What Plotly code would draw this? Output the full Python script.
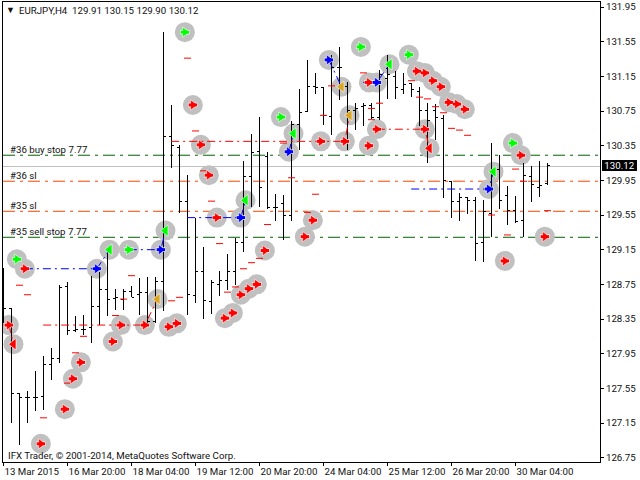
import plotly.graph_objects as go

bar_index = list(range(69))
highs = [128.94,128.47,127.49,127.52,127.75,127.92,128.02,128.74,128.78,128.39,128.40,128.85,128.89,129.15,128.70,128.70,128.73,128.82,128.84,128.84,
         131.66,130.82,130.36,130.01,129.52,129.18,128.80,128.90,129.10,129.28,130.17,130.49,130.68,130.28,129.79,129.78,130.64,131.00,131.34,131.19,
         131.02,131.40,131.49,131.08,130.84,130.84,130.84,131.22,131.40,131.21,131.19,131.07,131.03,130.84,130.83,130.70,129.94,129.80,129.76,129.76,
         129.72,130.38,130.24,129.89,129.77,130.15,130.12,130.17,130.15]
lows = [128.30,127.15,126.90,127.15,127.29,127.30,127.65,127.84,128.17,128.20,128.17,128.07,128.28,128.39,128.45,128.45,128.60,128.40,128.30,128.30,
        128.44,130.09,129.57,128.40,128.53,128.35,128.41,128.62,128.69,128.74,129.12,129.64,129.64,129.62,129.48,129.26,129.48,130.30,130.74,130.95,
        130.59,130.47,130.88,130.30,130.53,130.58,130.66,130.65,130.89,130.89,130.95,130.91,130.58,130.15,130.42,129.75,129.52,129.48,129.56,129.02,
        129.01,129.30,129.62,129.44,129.46,129.30,129.70,129.76,129.90]
opens = [128.57,128.47,127.49,127.44,127.44,127.46,127.83,127.89,128.72,128.22,128.23,128.25,128.50,128.69,128.59,128.58,128.67,128.63,128.66,128.32,
         128.78,130.46,130.33,129.71,128.62,128.90,128.55,128.75,128.79,128.90,129.23,129.99,130.28,130.22,129.64,129.68,129.55,130.59,130.74,131.03,
         131.02,130.69,131.25,131.03,130.76,130.80,130.81,130.68,131.13,131.15,131.00,131.07,130.98,130.76,130.76,130.66,129.94,129.71,129.75,129.72,
         129.23,129.57,130.08,129.78,129.60,129.49,130.00,129.87,129.91]
closes = [128.47,127.49,127.44,127.44,127.45,127.83,127.89,128.71,128.22,128.23,128.23,128.49,128.69,128.58,128.60,128.67,128.60,128.66,128.32,128.78,
          130.46,130.35,129.71,128.63,128.90,128.56,128.77,128.79,128.90,129.23,129.99,130.27,129.87,129.64,129.64,129.55,130.60,130.73,131.03,131.02,
          130.70,131.25,131.25,130.76,130.78,130.81,130.67,131.17,131.17,131.02,131.06,131.00,130.76,130.64,130.67,129.95,129.71,129.75,129.72,129.22,
          129.59,130.08,129.72,129.60,129.48,130.01,129.90,129.89,130.12]

date_ticks = [0,8,16,24,32,40,48,56,64]
date_labels = ["13 Mar 2015","16 Mar 20:00","18 Mar 04:00","19 Mar 12:00","20 Mar 20:00","24 Mar 04:00","25 Mar 12:00","26 Mar 20:00","30 Mar 04:00"]
price_ticks = [131.95,131.55,131.15,130.75,130.35,129.95,129.55,129.15,128.75,128.35,127.95,127.55,127.15,126.75]

red_right_x = [0.67,2.67,4.67,7.67,8.67,9.67,13.67,14.67,17.67,20.67,21.67,23.67,24.67,25.67,26.67,27.67,28.67,29.67,30.67,31.67,32.67,37.67,38.67,39.67,42.67,45.67,45.67,46.67,51.67,52.67,52.67,53.67,54.67,55.67,56.67,57.67,62.67,64.67,67.67]
red_right_y = [128.28,128.93,126.91,127.31,127.66,127.85,128.09,128.28,128.28,128.26,128.30,130.82,130.36,130.01,129.52,128.36,128.42,128.63,128.70,128.75,129.14,129.30,129.49,130.40,130.40,131.08,130.35,130.54,131.21,131.19,130.54,131.10,131.03,130.85,130.83,130.77,129.02,130.24,129.30]
red_left_x = [1.25,53.25]
red_left_y = [128.06,130.32]
green_right_x = [1.67,15.67,22.67,34.67,44.67,50.67,63.67]
green_right_y = [129.04,129.15,131.66,130.68,131.49,131.40,130.38]
green_left_x = [13.25,20.25,30.25,36.25,48.25,61.25]
green_left_y = [129.15,129.37,129.72,130.49,131.29,130.05]
blue_right_x = [11.67,19.67,29.67,35.67,40.67,46.67,60.67]
blue_right_y = [128.93,129.15,129.52,130.28,131.34,131.08,129.85]
gold_left_x = [19.25,42.25,43.25]
gold_left_y = [128.58,131.03,130.70]

dash_x = [2,3,5,9,8,10,14,15,16,21,22,23,24,25,26,27,28,29,30,31,32,33,35,36,38,39,40,41,45,46,46,47,51,52,53,54,55,56,57,58,61,63,64,65,68]
dash_y = [128.74,128.63,127.21,127.96,127.61,128.15,128.39,128.58,128.85,128.56,128.60,131.36,130.52,130.06,129.71,129.22,128.66,128.72,128.93,129.00,129.05,129.44,130.38,129.98,129.58,129.79,130.70,131.04,131.19,130.78,130.65,130.84,131.10,130.91,130.89,130.80,130.73,130.55,130.53,130.47,129.55,129.32,130.08,129.94,129.60]

red_paths = [([0,0.67],[128.28,128.28]),([0.67,1.25],[128.28,128.06]),([4.96,17.67,19.25],[128.28,128.28,128.58]),
             ([20.96,42.67,43.25],[130.40,130.40,130.70]),([46.67,52.67,53.25],[130.54,130.54,130.32])]
blue_paths = [([2.67,11.67,13.25],[128.93,128.93,129.15]),([15.67,19.67,20.25],[129.15,129.15,129.37]),
              ([22.96,29.67,30.25],[129.52,129.52,129.72]),([35.67,36.25],[130.28,130.49]),([40.67,42.25],[131.34,131.03]),
              ([44.96,46.67,48.25],[131.08,131.08,131.29]),([50.96,60.67,61.25],[129.85,129.85,130.05])]

order_prices = [130.24,129.94,129.593,129.293]
order_colors = ["#006400","#FF4500","#FF4500","#006400"]
order_labels = ["#36 buy stop 7.77","#36 sl","#35 sl","#35 sell stop 7.77"]
last_price = 130.12
last_price_line = 130.11

FONT = "Roboto"
FS = 9.7
L, R, T, B = 3, 40, 2, 18
px_w = 640 - L - R
px_h = 480 - T - B
X_RANGE = [-0.0625, 74.5625]
Y_RANGE = [126.70, 132.008]

def paper_x(px):
    return (px - L) / px_w

def paper_y(py):
    return (480 - B - py) / px_h

def note(text, px, py, size=FS):
    return dict(text=text, xref="paper", yref="paper", x=paper_x(px), y=paper_y(py), xanchor="left", yanchor="middle",
                showarrow=False, borderpad=0, font=dict(family=FONT, size=size, color="#101010"))

fig = go.Figure()

fig.add_trace(go.Ohlc(x=bar_index, open=opens, high=highs, low=lows, close=closes, tickwidth=0.36,
                      increasing=dict(line=dict(color="black", width=1)),
                      decreasing=dict(line=dict(color="black", width=1)),
                      showlegend=False, hoverinfo="skip"))

shapes = []
shapes.append(dict(type="line", xref="paper", x0=0, x1=1, yref="y", y0=last_price_line, y1=last_price_line,
                   line=dict(color="#C0C0C0", width=1), layer="below"))
for p, c in zip(order_prices, order_colors):
    shapes.append(dict(type="line", xref="paper", x0=0, x1=1, yref="y", y0=p, y1=p,
                       line=dict(color=c, width=1, dash="12px,5px,3px,5px"), layer="below"))
all_x = red_right_x + red_left_x + green_right_x + green_left_x + blue_right_x + gold_left_x
all_y = red_right_y + red_left_y + green_right_y + green_left_y + blue_right_y + gold_left_y
for cx, cy in zip(all_x, all_y):
    shapes.append(dict(type="circle", xref="x", yref="y", xsizemode="pixel", ysizemode="pixel", xanchor=cx, yanchor=cy,
                       x0=-10, x1=10, y0=-10, y1=10, fillcolor="#C0C0C0", line=dict(width=0), layer="below"))

for xs, ys in red_paths:
    fig.add_trace(go.Scatter(x=xs, y=ys, mode="lines", line=dict(color="#FF0000", width=1, dash="8px,4px,2px,4px"), showlegend=False, hoverinfo="skip"))
for xs, ys in blue_paths:
    fig.add_trace(go.Scatter(x=xs, y=ys, mode="lines", line=dict(color="#0000FF", width=1, dash="8px,4px,2px,4px"), showlegend=False, hoverinfo="skip"))

fig.add_trace(go.Scatter(x=dash_x, y=dash_y, mode="markers", showlegend=False, hoverinfo="skip",
                         marker=dict(symbol="line-ew", size=5, line=dict(color="#FF0000", width=1))))

def arrows(xs, ys, color, right=True):
    if right:
        fig.add_trace(go.Scatter(x=xs, y=ys, mode="markers", showlegend=False, hoverinfo="skip",
                                 marker=dict(symbol="line-ew", size=6.5, line=dict(color="white", width=4.5))))
        fig.add_trace(go.Scatter(x=xs, y=ys, mode="markers", showlegend=False, hoverinfo="skip",
                                 marker=dict(symbol="triangle-right", size=9, color=color, line=dict(color="white", width=0.6))))
        fig.add_trace(go.Scatter(x=xs, y=ys, mode="markers", showlegend=False, hoverinfo="skip",
                                 marker=dict(symbol="line-ew", size=6, line=dict(color=color, width=3))))
    else:
        fig.add_trace(go.Scatter(x=xs, y=ys, mode="markers", showlegend=False, hoverinfo="skip",
                                 marker=dict(symbol="triangle-left", size=10, color=color, line=dict(color="white", width=0.6))))

arrows(red_right_x, red_right_y, "#FF0000")
arrows(red_left_x, red_left_y, "#FF0000", right=False)
arrows(green_right_x, green_right_y, "#00FF00")
arrows(green_left_x, green_left_y, "#00FF00", right=False)
arrows(blue_right_x, blue_right_y, "#0000FF")
arrows(gold_left_x, gold_left_y, "#DAA520", right=False)

anns = [
    note("EURJPY,H4&nbsp;&nbsp;129.91 130.15 129.90 130.12", 18, 10),
    note("▼", 5, 10, size=9),
    note("IFX Trader, © 2001-2014, MetaQuotes Software Corp.", 7, 455),
]
for text, py in zip(order_labels, [149.5, 175.5, 205.5, 231.5]):
    anns.append(note(text, 9, py))
anns.append(dict(text=f"{last_price:.2f}", xref="paper", yref="y", x=paper_x(602), y=last_price, xanchor="left", yanchor="middle",
                 showarrow=False, bgcolor="black", width=35, height=11, align="center", borderpad=0, borderwidth=0,
                 font=dict(family=FONT, size=FS, color="white")))

fig.update_layout(
    width=640, height=480, autosize=False, paper_bgcolor="white", plot_bgcolor="white",
    margin=dict(l=L, r=R, t=T, b=B, pad=0, autoexpand=False), showlegend=False, shapes=shapes, annotations=anns,
    font=dict(family=FONT, size=FS, color="#101010"),
    xaxis=dict(range=X_RANGE, rangeslider=dict(visible=False), tickmode="array", tickvals=date_ticks, ticktext=date_labels,
               ticks="outside", ticklen=3, tickcolor="black", ticklabelposition="outside right", tickangle=0, automargin=False,
               showgrid=False, zeroline=False, showline=True, linecolor="black", linewidth=1, mirror=True,
               tickfont=dict(family=FONT, size=FS)),
    yaxis=dict(range=Y_RANGE, side="right", tickmode="array", tickvals=price_ticks, ticktext=[f"{v:.2f}" for v in price_ticks],
               ticks="outside", ticklen=3, tickcolor="black", showgrid=False, zeroline=False, automargin=False,
               showline=True, linecolor="black", linewidth=1, mirror=True, tickfont=dict(family=FONT, size=FS)),
)

fig.write_html("out.html", config={"displayModeBar": False},
               post_script="document.body.style.margin='0';document.documentElement.style.overflow='hidden';"
                           "document.querySelectorAll('.ohlc path').forEach(function(p){p.style.shapeRendering='crispEdges';});")
